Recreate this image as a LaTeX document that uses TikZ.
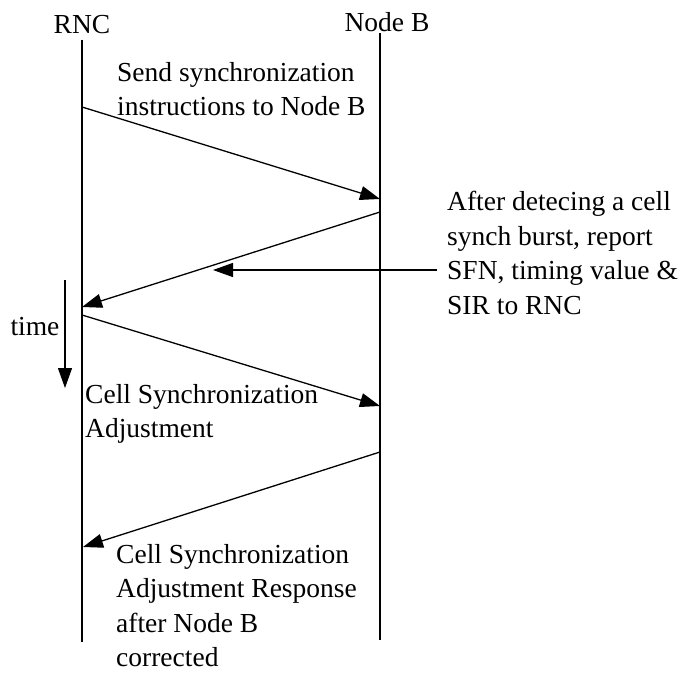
\documentclass[tikz,border=0pt]{standalone}
\usepackage{fontspec}
\setmainfont{Liberation Serif}
\usetikzlibrary{arrows.meta}

\tikzset{
  lifeline/.style={line width=1.4pt},
  msg/.style={line width=1.3pt, -{Triangle[length=20pt,width=14pt]}},
  msgtext/.style={anchor=north west, inner sep=0pt, align=left, font=\fontsize{27.5}{34.5}\selectfont}
}

\begin{document}
\begin{tikzpicture}[x=1pt, y=-1pt]
  \useasboundingbox (0,0) rectangle (682,676);

  % entities
  \node[inner sep=0pt, font=\fontsize{27.5}{34.5}\selectfont] (rnc) at (82,25) {RNC};
  \node[inner sep=0pt, font=\fontsize{27.5}{34.5}\selectfont] (nodeb) at (387,22) {Node B};

  \coordinate (rncTop) at (82,40);
  \coordinate (rncBot) at (82,642);
  \coordinate (nbTop) at (380,33);
  \coordinate (nbBot) at (380,640);
  \draw[lifeline] (rncTop) -- (rncBot);
  \draw[lifeline] (nbTop) -- (nbBot);

  % message end points
  \coordinate (r1) at (82,107);
  \coordinate (b1) at (380,199);
  \coordinate (b2) at (380,212);
  \coordinate (r2) at (82,307);
  \coordinate (r3) at (82,315);
  \coordinate (b3) at (380,406);
  \coordinate (b4) at (380,452);
  \coordinate (r4) at (83,547);
  \coordinate (rep) at (437,270);
  \coordinate (repTip) at (213,270);
  \coordinate (timeTop) at (65,280);
  \coordinate (timeBot) at (65,388);

  \draw[msg] (r1) -- (b1);
  \draw[msg] (b2) -- (r2);
  \draw[msg] (rep) -- (repTip);
  \draw[msg] (r3) -- (b3);
  \draw[msg] (b4) -- (r4);
  \draw[msg] (timeTop) -- (timeBot);

  % labels
  \node[msgtext] (sendtxt) at (117,62) {Send synchronization\\instructions to Node B};
  \node[msgtext] (reporttxt) at (447,191) {After detecing a cell\\synch burst, report\\SFN, timing value \&\\SIR to RNC};
  \node[msgtext] (adjtxt) at (85,384) {Cell Synchronization\\Adjustment};
  \node[msgtext] (resptxt) at (116,544) {Cell Synchronization\\Adjustment Response\\after Node B\\corrected};
  \node[msgtext, anchor=center] (timetxt) at (35,327) {time};
\end{tikzpicture}
\end{document}
